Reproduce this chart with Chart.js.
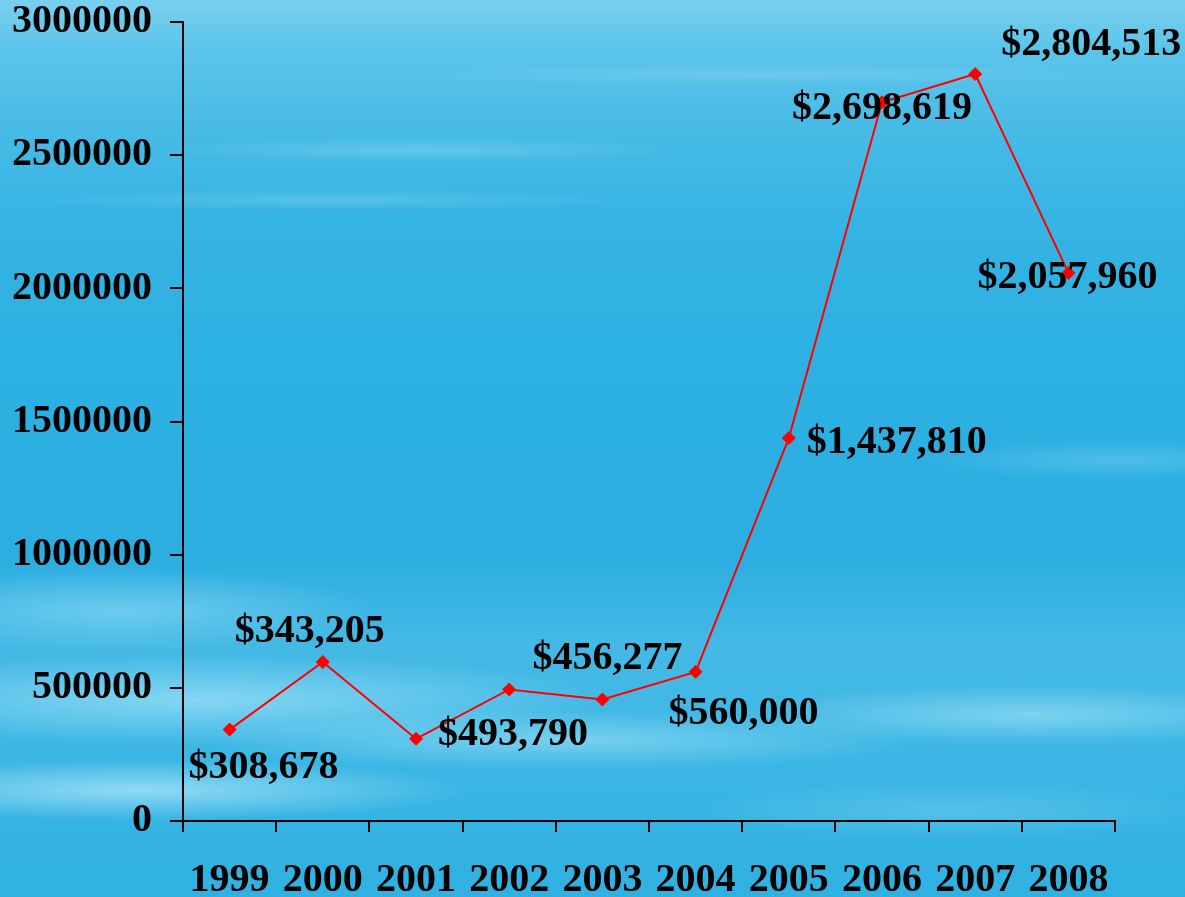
<!DOCTYPE html>
<html>
<head>
<meta charset="utf-8">
<script src="https://cdn.jsdelivr.net/npm/chart.js@4"></script>
<style>
  html, body { margin: 0; padding: 0; }
  body {
    width: 1185px;
    height: 897px;
    overflow: hidden;
    background:
      radial-gradient(ellipse 260px 12px at 420px 150px, rgba(140,215,242,0.45), rgba(140,215,242,0)),
      radial-gradient(ellipse 380px 10px at 760px 75px, rgba(140,215,242,0.4), rgba(140,215,242,0)),
      radial-gradient(ellipse 300px 10px at 330px 200px, rgba(130,210,240,0.4), rgba(130,210,240,0)),
      radial-gradient(ellipse 260px 40px at 120px 610px, rgba(150,222,246,0.55), rgba(150,222,246,0)),
      radial-gradient(ellipse 420px 45px at 200px 700px, rgba(150,222,246,0.8), rgba(150,222,246,0)),
      radial-gradient(ellipse 360px 30px at 560px 740px, rgba(145,220,245,0.7), rgba(145,220,245,0)),
      radial-gradient(ellipse 330px 30px at 140px 790px, rgba(160,225,248,0.85), rgba(160,225,248,0)),
      radial-gradient(ellipse 300px 30px at 1030px 715px, rgba(150,222,246,0.7), rgba(150,222,246,0)),
      radial-gradient(ellipse 200px 20px at 1120px 460px, rgba(130,212,242,0.4), rgba(130,212,242,0)),
      radial-gradient(ellipse 260px 30px at 950px 810px, rgba(130,212,242,0.4), rgba(130,212,242,0)),
      linear-gradient(to bottom, #7ad0ee 0%, #5ec5ea 5%, #48bbe6 14%, #36b4e3 25%, #2db0e2 38%, #2caee1 62%, #45b9e5 72%, #3cb6e4 85%, #2fb1e1 100%);
  }
  #wrap { position: absolute; left: 0; top: 0; width: 1185px; height: 897px; }
</style>
</head>
<body>
<div id="wrap"><canvas id="chart"></canvas></div>
<script>
const years = ['1999', '2000', '2001', '2002', '2003', '2004', '2005', '2006', '2007', '2008'];
const amounts = [343205, 597000, 308678, 493790, 456277, 560000, 1437810, 2698619, 2804513, 2057960];
// labels as printed next to each point (2002 has none)
const pointLabels = ['$308,678', '$343,205', '$493,790', null, '$456,277', '$560,000',
  '$1,437,810', '$2,698,619', '$2,804,513', '$2,057,960'];
const yTicks = [0, 500000, 1000000, 1500000, 2000000, 2500000, 3000000];

// where each label sits relative to its point (text centre)
const labelOffsets = [[34, 36], [-13, -32], [97, -6], [0, 0], [5, -43], [48, 40],
  [108, 3], [0, 4], [116, -31], [-1, 3]];

const serif = "'Liberation Serif', 'Times New Roman', serif";

const pointLabelPlugin = {
  id: 'pointLabels',
  afterDatasetsDraw(chart) {
    const ctx = chart.ctx;
    const meta = chart.getDatasetMeta(0);
    ctx.save();
    ctx.font = 'bold 40px ' + serif;
    ctx.fillStyle = '#000';
    ctx.textAlign = 'center';
    ctx.textBaseline = 'middle';
    meta.data.forEach((pt, i) => {
      const txt = pointLabels[i];
      if (!txt) return;
      const off = labelOffsets[i];
      ctx.fillText(txt, pt.x + off[0], pt.y + off[1] + 2);
    });
    ctx.restore();
  }
};

new Chart(document.getElementById('chart'), {
  type: 'line',
  data: {
    labels: years,
    datasets: [{
      data: amounts,
      borderColor: '#ff0000',
      borderWidth: 2,
      backgroundColor: '#ff0000',
      pointStyle: 'rectRot',
      pointRadius: 6.5,
      pointBorderWidth: 1,
      pointBackgroundColor: '#ff0000',
      pointBorderColor: '#ff0000',
      tension: 0,
      clip: false
    }]
  },
  options: {
    responsive: true,
    maintainAspectRatio: false,
    animation: false,
    layout: { padding: { top: 22, right: 70, left: 0, bottom: 0 } },
    plugins: {
      legend: { display: false },
      tooltip: { enabled: false }
    },
    scales: {
      x: {
        offset: true,
        grid: {
          offset: true,
          drawOnChartArea: false,
          drawTicks: true,
          tickLength: 11,
          color: '#000',
          lineWidth: 2
        },
        border: { display: true, color: '#000', width: 2 },
        ticks: {
          color: '#000',
          padding: 29,
          maxRotation: 0,
          autoSkip: false,
          font: { family: serif, size: 40, weight: 'bold', lineHeight: 1 }
        },
        afterFit(scale) {
          scale.height = 76;
          scale.paddingLeft = 0;
          scale.paddingRight = 0;
        }
      },
      y: {
        min: 0,
        max: 3000000,
        afterBuildTicks(scale) { scale.ticks = yTicks.map(v => ({ value: v })); },
        grid: {
          drawOnChartArea: false,
          drawTicks: true,
          tickLength: 13,
          color: '#000',
          lineWidth: 2
        },
        border: { display: true, color: '#000', width: 2 },
        ticks: {
          color: '#000',
          padding: 18,
          callback: v => String(v),
          font: { family: serif, size: 40, weight: 'bold', lineHeight: 1 }
        },
        afterFit(scale) {
          scale.width = 183;
          scale.paddingTop = 0;
          scale.paddingBottom = 0;
        }
      }
    }
  },
  plugins: [pointLabelPlugin]
});
</script>
</body>
</html>
